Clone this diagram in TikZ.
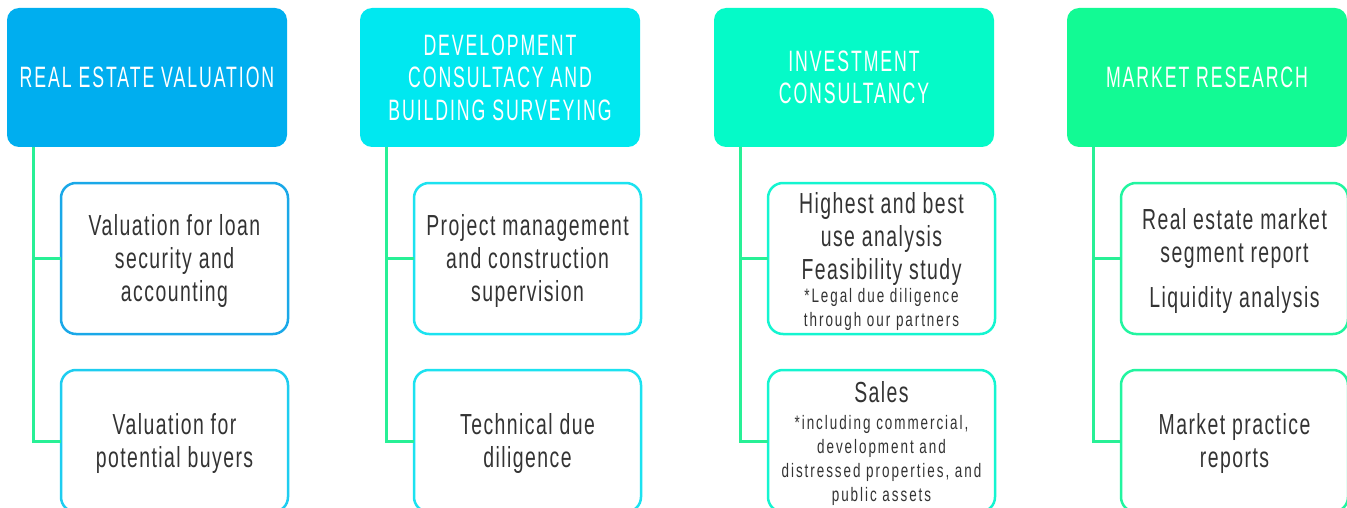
\documentclass[tikz,border=0pt]{standalone}
\usepackage{fontspec}
\setmainfont{Liberation Sans}
\newfontfamily\hfont{Liberation Sans}[FakeStretch=0.6,LetterSpace=6.5]
\newfontfamily\bfont{Liberation Sans}[FakeStretch=0.67,LetterSpace=5]
\newfontfamily\sfont{Liberation Sans}[FakeStretch=0.69,LetterSpace=10]
\definecolor{hA}{RGB}{0,174,239}
\definecolor{hB}{RGB}{0,232,240}
\definecolor{hC}{RGB}{5,250,200}
\definecolor{hD}{RGB}{18,250,148}
\definecolor{bA}{RGB}{26,168,232}
\definecolor{bA2}{RGB}{30,205,240}
\definecolor{bB}{RGB}{28,226,240}
\definecolor{bC}{RGB}{20,245,208}
\definecolor{bD}{RGB}{34,245,160}
\definecolor{conncol}{RGB}{40,240,150}
\definecolor{txt}{RGB}{51,51,51}
\tikzset{
  headbox/.style={rectangle, rounded corners=12pt, inner sep=0pt, outer sep=0pt,
    minimum width=280pt, minimum height=139pt, text=white, align=center,
    font={\hfont\fontsize{29.5}{32.5}\selectfont}},
  childbox/.style={rectangle, draw, line width=2.5pt, rounded corners=15pt, fill=white,
    inner sep=0pt, outer sep=0pt, minimum width=227pt},
  childtext/.style={inner sep=0pt, outer sep=0pt, text=txt, align=center,
    font={\bfont\fontsize{29}{33}\selectfont}},
  conn/.style={draw=conncol, line width=3pt}
}
\newcommand{\smt}[1]{{\sfont\fontsize{19.5}{24}\selectfont #1}}
\begin{document}
\begin{tikzpicture}[x=1pt,y=-1pt]
\useasboundingbox (0,0) rectangle (1347,508);
\clip (0,0) rectangle (1347,508);
% column 1
\node[headbox, fill=hA] (h1) at (147,77.5) {REAL ESTATE VALUATION};
\node[childbox, draw=bA, minimum height=151pt] (c11) at (174.5,258.5) {};
\node[childbox, draw=bA2, minimum height=142pt] (c12) at (174.5,441) {};
\node[childtext] (c11t) at ([yshift=-3pt]c11.center) {Valuation for loan\\security and\\accounting};
\node[childtext] (c12t) at ([yshift=-2.5pt]c12.center) {Valuation for\\potential buyers};
% column 2
\node[headbox, fill=hB] (h2) at (500,77.5) {DEVELOPMENT\\CONSULTACY AND\\BUILDING SURVEYING};
\node[childbox, draw=bB, minimum height=151pt] (c21) at (527.5,258.5) {};
\node[childbox, draw=bB, minimum height=142pt] (c22) at (527.5,441) {};
\node[childtext] (c21t) at ([yshift=-3pt]c21.center) {Project management\\and construction\\supervision};
\node[childtext] (c22t) at ([yshift=-2.5pt]c22.center) {Technical due\\diligence};
% column 3
\node[headbox, fill=hC] (h3) at (854,77.5) {INVESTMENT\\CONSULTANCY};
\node[childbox, draw=bC, minimum height=151pt] (c31) at (881.5,258.5) {};
\node[childbox, draw=bC, minimum height=142pt] (c32) at (881.5,441) {};
\node[childtext] (c31t) at ([yshift=-3pt]c31.center) {Highest and best\\use analysis\\Feasibility study\\[-10pt]\smt{*Legal due diligence}\\[-9pt]\smt{through our partners}};
\node[childtext] (c32t) at ([yshift=-3pt]c32.center) {Sales\\[-6pt]\smt{*including commercial,}\\[-9pt]\smt{development and}\\[-9pt]\smt{distressed properties, and}\\[-9pt]\smt{public assets}};
% column 4
\node[headbox, fill=hD] (h4) at (1207,77.5) {MARKET RESEARCH};
\node[childbox, draw=bD, minimum height=151pt] (c41) at (1234.5,258.5) {};
\node[childbox, draw=bD, minimum height=142pt] (c42) at (1234.5,441) {};
\node[childtext] (c41t) at ([yshift=-3pt]c41.center) {Real estate market\\segment report\\[12pt]Liquidity analysis};
\node[childtext] (c42t) at ([yshift=-2.5pt]c42.center) {Market practice\\reports};
% connectors
\foreach \i in {1,2,3,4}{
  \coordinate (t\i) at ([xshift=26.5pt]h\i.south west);
  \draw[conn] (t\i) |- (c\i1.west);
  \draw[conn] (t\i) |- (c\i2.west);
}
\end{tikzpicture}
\end{document}
